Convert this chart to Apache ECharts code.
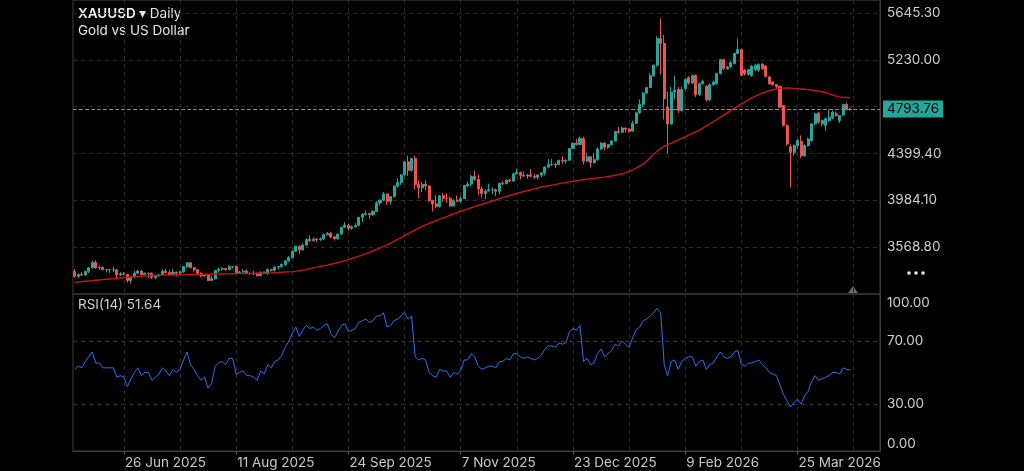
<!DOCTYPE html>
<html>
<head>
<meta charset="utf-8">
<script src="https://cdn.jsdelivr.net/npm/echarts@6/dist/echarts.min.js"></script>
<style>
html,body{margin:0;padding:0;background:#000;}
#chart{width:1024px;height:471px;}
</style>
</head>
<body>
<div id="chart"></div>
<script>
// ---------- DATA ----------
const priceTicks = [3568.80, 3984.10, 4399.40, 4814.70, 5230.00, 5645.30];
const lastPrice = 4793.76;
const lastRsi = 51.64;
const labelDates = ['2025-06-26','2025-08-11','2025-09-24','2025-11-07','2025-12-23','2026-02-09','2026-03-25'];
const holidays = ['2025-12-25','2026-01-01','2026-04-03'];

const openP = [
3353,3310,3326,3322,3355,3386,3432,3385,3388,3369,3370,3368,3368,3323,3332,3328,3274,3303,3338,3357,
3326,3337,3335,3301,3313,3325,3355,3343,3324,3347,3339,3350,3397,3431,3387,3368,3337,3314,3326,3274,
3289,3363,3373,3380,3369,3397,3398,3342,3348,3356,3335,3336,3332,3315,3348,3339,3372,3365,3393,3397,
3416,3448,3476,3533,3578,3545,3587,3636,3626,3640,3634,3643,3679,3690,3660,3644,3685,3746,3763,3736,
3749,3760,3833,3859,3866,3857,3886,3961,3985,4041,3975,4017,4110,4143,4209,4326,4250,4356,4125,4095,
4126,4112,3982,3952,3930,4024,4002,4000,3933,3980,3977,4000,4115,4128,4195,4171,4084,4045,4066,4077,
4078,4065,4136,4131,4164,4155,4218,4231,4206,4199,4209,4197,4189,4208,4228,4279,4300,4305,4302,4339,
4332,4339,4444,4491,4480,4531,4332,4371,4319,4345,4440,4492,4455,4478,4510,4595,4588,4625,4615,4597,
4668,4760,4835,4935,4985,5090,5182,5420,5375,4811,4662,4944,4968,4781,4974,5072,5024,5093,4923,5018,
4995,4876,5010,5018,5108,5232,5152,5167,5197,5286,5321,5137,5102,5093,5143,5137,5191,5176,5078,5033,
5010,4995,4825,4647,4460,4409,4469,4508,4380,4469,4514,4662,4757,4662,4647,4692,4715,4751,4692,4742,
4834,4787];
const closeP = [
3310,3326,3322,3355,3386,3432,3385,3388,3369,3370,3368,3369,3323,3332,3328,3274,3303,3338,3357,3326,
3337,3335,3301,3313,3325,3355,3343,3324,3347,3339,3350,3397,3431,3387,3368,3337,3314,3326,3274,3289,
3363,3373,3380,3369,3397,3398,3342,3348,3356,3335,3336,3332,3315,3348,3339,3372,3365,3393,3397,3416,
3448,3476,3533,3578,3545,3587,3636,3626,3640,3634,3643,3679,3690,3660,3644,3685,3746,3763,3736,3749,
3760,3833,3859,3866,3857,3886,3961,3985,4041,3975,4017,4110,4143,4209,4326,4250,4356,4125,4095,4126,
4112,3982,3952,3930,4024,4002,4000,3933,3980,3977,4000,4115,4128,4195,4171,4084,4045,4066,4077,4078,
4065,4136,4131,4164,4155,4218,4231,4206,4199,4209,4197,4189,4208,4228,4279,4300,4305,4302,4339,4332,
4339,4444,4491,4480,4531,4332,4371,4319,4345,4440,4492,4455,4478,4510,4595,4588,4625,4615,4597,4668,
4760,4835,4935,4985,5090,5182,5420,5375,4885,4662,4944,4960,4781,4968,5054,5024,5090,4923,5018,5040,
4876,5010,5033,5108,5232,5152,5167,5206,5286,5321,5093,5108,5143,5173,5182,5188,5152,5084,5018,5010,
4989,4811,4647,4484,4409,4469,4514,4380,4469,4528,4662,4751,4677,4692,4707,4721,4766,4736,4736,4834,
4787,4793.76];
const lowP = [
3300,3293,3310,3315,3340,3378,3378,3367,3362,3347,3340,3347,3295,3312,3322,3255,3247,3296,3329,3311,
3323,3296,3287,3283,3310,3322,3341,3320,3320,3310,3332,3340,3383,3381,3351,3325,3302,3308,3268,3270,
3281,3346,3359,3358,3367,3378,3341,3331,3343,3330,3324,3323,3311,3312,3332,3321,3351,3351,3369,3386,
3400,3435,3470,3525,3511,3539,3577,3618,3621,3613,3624,3632,3677,3647,3628,3634,3676,3737,3717,3722,
3742,3759,3792,3851,3820,3845,3884,3938,3984,3945,3947,4007,4097,4122,4196,4200,4238,4082,4004,4057,
4072,3973,3886,3917,3920,3970,3962,3928,3930,3967,3960,3996,4097,4106,4157,4032,4011,3997,4062,4039,
4022,4040,4120,4128,4145,4150,4214,4171,4195,4175,4194,4175,4170,4190,4205,4271,4290,4270,4296,4309,
4310,4338,4437,4469,4478,4302,4330,4274,4308,4335,4430,4425,4440,4470,4505,4575,4585,4585,4585,4595,
4660,4750,4812,4930,4980,5080,5170,5100,4700,4400,4655,4880,4760,4770,4960,5010,5015,4900,4910,5010,
4860,4865,5000,5010,5100,5140,5140,5160,5190,5280,5085,5090,5090,5080,5130,5125,5140,5075,5010,4998,
4975,4800,4640,4470,4098,4380,4440,4360,4370,4460,4505,4650,4660,4640,4600,4680,4705,4725,4670,4730,
4780,4782];
const highP = [
3375,3338,3349,3360,3392,3451,3452,3403,3399,3379,3376,3398,3369,3347,3350,3329,3309,3358,3366,3365,
3345,3343,3346,3321,3331,3369,3375,3366,3377,3352,3361,3402,3434,3439,3393,3374,3345,3331,3334,3315,
3365,3385,3390,3384,3409,3400,3404,3358,3375,3374,3345,3358,3345,3351,3352,3378,3376,3394,3398,3423,
3454,3490,3540,3579,3580,3600,3646,3674,3656,3650,3656,3690,3703,3707,3667,3686,3749,3791,3778,3761,
3782,3834,3872,3895,3875,3896,3977,3991,4059,4045,4022,4116,4180,4218,4330,4380,4359,4381,4161,4146,
4161,4115,3990,4030,4031,4050,4046,4018,3994,4029,4019,4120,4148,4210,4245,4211,4105,4082,4131,4098,
4089,4140,4155,4169,4174,4230,4264,4240,4241,4217,4259,4218,4217,4233,4285,4353,4350,4318,4343,4375,
4349,4447,4497,4525,4550,4550,4400,4373,4402,4455,4500,4500,4485,4518,4600,4635,4640,4628,4625,4690,
4765,4880,4945,4990,5110,5190,5440,5598,5450,4950,4990,5090,4990,4990,5070,5085,5100,5100,5030,5055,
5005,5020,5045,5115,5240,5240,5175,5215,5295,5420,5330,5150,5150,5185,5195,5200,5200,5180,5085,5040,
5015,5000,4830,4660,4480,4480,4530,4560,4480,4540,4670,4760,4770,4700,4720,4790,4780,4770,4740,4840,
4850,4805];
const maValues = [
3257,3260,3263,3266,3269,3272,3275,3278,3281,3284,3287,3290,3293,3296,3299,3302,3305,3308,3310,3312,
3314,3316,3318,3319,3321,3322,3323,3323,3324,3324,3325,3325,3325,3326,3326,3326,3326,3327,3327,3328,
3329,3330,3331,3332,3332,3333,3334,3334,3335,3335,3336,3336,3337,3338,3338,3339,3340,3342,3344,3346,
3348,3350,3352,3356,3360,3365,3371,3378,3385,3392,3398,3404,3410,3417,3424,3432,3440,3449,3458,3468,
3478,3489,3500,3511,3523,3535,3548,3561,3575,3590,3605,3620,3637,3654,3671,3688,3705,3721,3737,3752,
3766,3779,3792,3804,3816,3828,3840,3852,3864,3876,3887,3898,3908,3918,3928,3938,3948,3958,3968,3978,
3988,3998,4008,4018,4027,4036,4045,4054,4062,4070,4078,4086,4093,4100,4107,4113,4119,4125,4131,4137,
4143,4148,4153,4158,4163,4167,4171,4175,4178,4182,4186,4190,4195,4200,4206,4212,4220,4230,4242,4255,
4270,4287,4305,4330,4362,4392,4420,4445,4463,4478,4492,4506,4520,4534,4548,4562,4576,4591,4607,4625,
4644,4663,4682,4701,4720,4740,4760,4780,4800,4820,4840,4858,4876,4893,4908,4922,4935,4946,4956,4965,
4972,4977,4979,4980,4979,4977,4975,4972,4969,4966,4962,4958,4953,4947,4940,4930,4918,4908,4902,4898,
4896,4894];
const rsiValues = [
52,54,53,57,60,63,56,56,53,53,53,53,47,48,47,41,46,50,53,48,
50,50,45,47,49,53,51,48,52,50,52,58,63,55,52,48,45,47,40,43,
54,56,57,55,59,59,49,50,51,48,48,47,45,51,49,55,53,57,58,61,
66,70,75,79,73,77,80,78,79,77,78,80,81,75,72,76,80,81,76,77,
78,82,83,84,82,83,86,86,88,79,80,83,84,86,88,84,86,60,58,59,
58,50,48,47,52,51,51,47,50,49,51,58,58,62,60,54,52,53,54,54,
53,57,57,59,58,62,62,60,59,60,59,58,59,61,65,67,67,66,69,68,
69,76,78,77,80,57,59,55,56,62,65,60,62,64,68,67,70,68,66,72,
77,79,83,84,86,88,91,88,55,48,57,58,52,57,59,60,60,54,57,58,
52,55,56,60,63,60,59,60,63,64,55,54,56,56,57,58,55,53,50,49,
48,42,36,32,28,31,33,30,35,38,44,48,45,46,47,48,50,50,49,53,
52,51.64];

// ---------- CATEGORIES (trading days) ----------
const dates = [];
(function(){
  let t = Date.UTC(2025,5,6);
  while (dates.length < 230) {
    const d = new Date(t);
    const wd = d.getUTCDay();
    const s = d.toISOString().slice(0,10);
    if (wd !== 0 && wd !== 6 && holidays.indexOf(s) < 0) dates.push(s);
    t += 86400000;
  }
})();
const months = ['Jan','Feb','Mar','Apr','May','Jun','Jul','Aug','Sep','Oct','Nov','Dec'];
const firstLabelIdx = dates.indexOf(labelDates[0]);
const labelInterval = (i) => labelDates.indexOf(dates[i]) >= 0;
const gridInterval = (i) => i >= 0 && ((i - firstLabelIdx) % 16 + 16) % 16 === 0;
const fmtDate = (s) => { const p = s.split('-'); return (+p[2]) + ' ' + months[+p[1]-1] + ' ' + p[0]; };

const candles = openP.map((o,i) => [o, closeP[i], lowP[i], highP[i]]);

const FONT = 'Inter';
const gridLine = {color:'#2c2c2c', type:[4,4], width:1};
const BORDER = '#3e3e3e';

const chart = echarts.init(document.getElementById('chart'), null, {renderer:'canvas'});
chart.setOption({
  backgroundColor:'#000',
  animation:false,
  grid:[
    {left:73, right:144, top:0, height:294, show:true, borderColor:BORDER, borderWidth:1, backgroundColor:'transparent'},
    {left:73, right:144, top:294, height:157, show:true, borderColor:BORDER, borderWidth:1, backgroundColor:'transparent'}
  ],
  xAxis:[
    {type:'category', gridIndex:0, data:dates, boundaryGap:true,
     axisLine:{show:false}, axisTick:{show:false}, axisLabel:{show:false},
     splitLine:{show:true, interval:gridInterval, alignWithLabel:true, lineStyle:gridLine}},
    {type:'category', gridIndex:1, data:dates, boundaryGap:true,
     axisLine:{show:true, lineStyle:{color:BORDER}},
     axisTick:{show:true, interval:labelInterval, alignWithLabel:true, length:4, lineStyle:{color:'#5a5a5a'}},
     axisLabel:{show:true, interval:labelInterval, formatter:fmtDate, color:'#c9c9c9', fontFamily:FONT, fontSize:13.5,
                align:'left', padding:[0,0,0,1], margin:5},
     splitLine:{show:true, interval:gridInterval, alignWithLabel:true, lineStyle:gridLine}}
  ],
  yAxis:[
    {type:'value', gridIndex:0, position:'right', min:3153.5, max:5760.6, interval:415.3,
     axisLine:{show:true, lineStyle:{color:BORDER}}, axisTick:{show:false},
     axisLabel:{color:'#cfcfcf', fontFamily:FONT, fontSize:13.5, margin:7, showMinLabel:false, showMaxLabel:false,
       formatter:(v)=>{ const m = priceTicks.find(p=>Math.abs(p-v)<0.05); if (m===undefined || Math.abs(m-4814.70)<0.05) return ''; return m.toFixed(2);} },
     splitLine:{show:true, lineStyle:gridLine}},
    {type:'value', gridIndex:1, position:'right', min:0, max:100, interval:10,
     axisLine:{show:true, lineStyle:{color:BORDER}}, axisTick:{show:false},
     axisLabel:{color:'#cfcfcf', fontFamily:FONT, fontSize:13.5, margin:7,
       formatter:(v)=>{ if (v===100) return '{t|100.00}'; if (v===0) return '{b|0.00}'; if (v===70||v===30) return v.toFixed(2); return ''; },
       rich:{ t:{color:'#cfcfcf', fontFamily:FONT, fontSize:13.5, padding:[18,0,0,0]},
              b:{color:'#cfcfcf', fontFamily:FONT, fontSize:13.5, padding:[0,0,14,0]} } },
     splitLine:{show:false}}
  ],
  graphic:[
    {type:'text', left:78, top:7, style:{text:'{b|XAUUSD} {a|▾ Daily}\n{a|Gold vs US Dollar}',
      rich:{b:{fill:'#f2f2f2', fontFamily:FONT, fontSize:13.5, fontWeight:600, lineHeight:17},
            a:{fill:'#e6e6e6', fontFamily:FONT, fontSize:13.5, lineHeight:17}}}},
    {type:'text', left:78, top:298, style:{text:'RSI(14) 51.64', fill:'#d0d0d0', font:'13.5px Inter'}},
    {type:'circle', shape:{cx:909, cy:273, r:1.8}, style:{fill:'#e8e8e8'}},
    {type:'circle', shape:{cx:916, cy:273, r:1.8}, style:{fill:'#e8e8e8'}},
    {type:'circle', shape:{cx:923, cy:273, r:1.8}, style:{fill:'#e8e8e8'}},
    {type:'polygon', shape:{points:[[848,293],[858,293],[853,286]]}, style:{fill:'#6a6a6a'}}
  ],
  series:[
    {type:'candlestick', xAxisIndex:0, yAxisIndex:0, data:candles, barWidth:'72%',
     itemStyle:{color:'#26a69a', color0:'#ef5350', borderColor:'#26a69a', borderColor0:'#ef5350', borderWidth:1},
     markLine:{silent:true, symbol:'none', animation:false,
       lineStyle:{color:'#2bb3a4', type:[4,2], width:1},
       label:{show:true, position:'end', distance:3, formatter:()=>lastPrice.toFixed(2),
              backgroundColor:'#26a69a', color:'#050505', fontFamily:FONT, fontSize:13.5, padding:[2,4,1,4]},
       data:[{yAxis:lastPrice}]}},
    {type:'line', xAxisIndex:0, yAxisIndex:0, data:maValues, showSymbol:false, symbol:'none',
     lineStyle:{color:'#c3161c', width:1.4}, z:3},
    {type:'line', xAxisIndex:1, yAxisIndex:1, data:rsiValues, showSymbol:false, symbol:'none',
     lineStyle:{color:'#2f6ff0', width:1},
     markLine:{silent:true, symbol:'none', animation:false, label:{show:false},
       lineStyle:{color:'#3a3a3a', type:[4,4], width:1},
       data:[{yAxis:70},{yAxis:30}]}}
  ]
});
</script>
</body>
</html>
